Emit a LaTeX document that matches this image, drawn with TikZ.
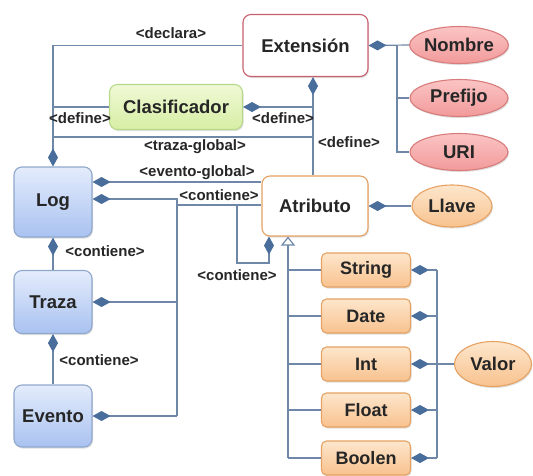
\documentclass[tikz,border=0pt]{standalone}
\usepackage{fontspec}
\setmainfont{Liberation Sans}
\usetikzlibrary{arrows.meta,shapes.geometric,shadows}
\definecolor{lnk}{HTML}{7088A8}
\definecolor{dia}{HTML}{4A6E9C}
\definecolor{blueB}{HTML}{8FA8CC}
\definecolor{blueT}{HTML}{E4ECFC}
\definecolor{blueD}{HTML}{A9C2F0}
\definecolor{redB}{HTML}{C8606E}
\definecolor{greenB}{HTML}{B8D88C}
\definecolor{greenT}{HTML}{F0F9D6}
\definecolor{greenD}{HTML}{D6EEA4}
\definecolor{oraB}{HTML}{E6A262}
\definecolor{oraT}{HTML}{FDE6CC}
\definecolor{oraD}{HTML}{F8C28E}
\definecolor{pinkB}{HTML}{D87C7C}
\definecolor{pinkT}{HTML}{FBC4C4}
\definecolor{pinkD}{HTML}{F29A9A}
\tikzset{
  every node/.style={font=\bfseries},
  box/.style={rounded corners=8pt, line width=1.1pt, align=center, inner sep=0pt,
    font=\fontsize{18.5}{21}\selectfont\bfseries, text=black!85,
    drop shadow={shadow xshift=1pt, shadow yshift=-1.5pt, opacity=0.25}},
  bluebox/.style={box, draw=blueB, top color=blueT, bottom color=blueD,
    minimum width=78pt, minimum height=68pt},
  subbox/.style={box, rounded corners=5pt, draw=oraB, top color=oraT, bottom color=oraD,
    minimum width=89pt, minimum height=34pt, font=\fontsize{18}{20}\selectfont\bfseries},
  oval/.style={ellipse, line width=1.1pt, inner sep=0pt,
    font=\fontsize{18.5}{21}\selectfont\bfseries, text=black!85,
    drop shadow={shadow xshift=1pt, shadow yshift=-1.5pt, opacity=0.25}},
  pinkoval/.style={oval, draw=pinkB, top color=pinkT, bottom color=pinkD,
    minimum width=98pt, minimum height=37pt},
  oraoval/.style={oval, draw=oraB, top color=oraT, bottom color=oraD},
  lbl/.style={font=\fontsize{15}{17}\selectfont\bfseries, text=black!85, inner sep=0pt},
  link/.style={draw=lnk, line width=1.2pt},
  own/.style={link, {Diamond[length=18pt, width=10pt, fill=dia, color=dia]}-},
  isa/.style={link, {Triangle[open, length=9pt, width=14pt, fill=white, color=lnk]}-},
}
\begin{document}
\begin{tikzpicture}[x=1pt, y=-1pt]
  \useasboundingbox (0,0) rectangle (533,475);
  \fill[white] (0,0) rectangle (533,475);

  % classes
  \node[box, draw=redB, fill=white, minimum width=125pt, minimum height=62pt] (ext) at (305.5,45.5) {Extensión};
  \node[box, draw=greenB, top color=greenT, bottom color=greenD, minimum width=133pt, minimum height=45pt] (cla) at (176,107) {Clasificador};
  \node[bluebox, minimum height=70pt] (log) at (53,202) {Log};
  \node[bluebox, minimum height=63pt] (tra) at (53,302) {Traza};
  \node[bluebox, minimum height=62pt] (eve) at (53,416) {Evento};
  \node[box, draw=oraB, fill=white, minimum width=106pt, minimum height=60pt] (atr) at (315,206) {Atributo};

  % attribute types
  \node[subbox] (str) at (366,270) {String};
  \node[subbox] (dat) at (366,316) {Date};
  \node[subbox] (int) at (366,364) {Int};
  \node[subbox] (flo) at (366,410) {Float};
  \node[subbox] (boo) at (366,458) {Boolen};

  % properties
  \node[pinkoval] (nom) at (459,45) {Nombre};
  \node[pinkoval] (pre) at (459,98) {Prefijo};
  \node[pinkoval] (uri) at (459,152) {URI};
  \node[oraoval, minimum width=80pt, minimum height=42pt] (lla) at (452,206) {Llave};
  \node[oraoval, minimum width=77pt, minimum height=45pt] (val) at (493,364) {Valor};

  % routing points
  \coordinate (vx) at (313,0);
  \coordinate (bus) at (177,0);
  \coordinate (tree) at (288,0);
  \coordinate (rbus) at (437,0);
  \coordinate (pbus) at (397,0);

  % Log: declara / define / traza-global
  \draw[own] (log.north) -- (log.north |- ext.west) -- (ext.west);
  \draw[link] (log.north |- cla.west) -- (cla.west);
  \draw[link] (log.north |- 0,137) -- (vx |- 0,137);
  % Extension owns its properties
  \draw[own] (ext.east) -- (nom.west);
  \draw[link] (pbus |- nom.west) -- (pbus |- uri.west) -- (uri.west);
  \draw[link] (pbus |- pre.west) -- (pre.west);
  % Extension define
  \draw[own] (ext.south -| vx) -- (atr.north -| vx);
  \draw[own] (cla.east) -- (cla.east -| vx);

  % Log / Traza / Evento
  \draw[own] (log.south) -- (tra.north);
  \draw[own] (tra.south) -- (eve.north);
  \draw[own] (log.east |- 0,182) -- (atr.west |- 0,182);
  \draw[own] (log.east |- 0,199) -- (bus |- 0,199) -- (bus |- eve.east) coordinate (busend);
  \draw[own] (tra.east) -- (bus |- tra.east);
  \draw[own] (eve.east) -- (busend);
  \draw[link] (bus |- 0,205) -- (atr.west |- 0,205);
  % Atributo contiene Atributo
  \draw[own] (atr.south -| 269,0) -- (269,263) -- (237,263) -- (237,205);
  % Atributo owns Llave
  \draw[own] (atr.east) -- (lla.west);

  % specialisations
  \draw[isa] (atr.south -| tree) -- (tree |- boo.west);
  \foreach \n in {str,dat,int,flo,boo}
    \draw[link] (tree |- \n.west) -- (\n.west);
  \foreach \n in {str,dat,flo,boo}
    \draw[own] (\n.east) -- (rbus |- \n.east);
  \draw[link] (rbus |- str.east) -- (rbus |- boo.east);
  \draw[own] (int.east) -- (val.west);

  % association labels
  \node[lbl] (l1) at (171,33) {<declara>};
  \node[lbl] (l2) at (80,118) {<define>};
  \node[lbl] (l3) at (283,118) {<define>};
  \node[lbl] (l4) at (195,147) {<traza-global>};
  \node[lbl] (l5) at (349,142) {<define>};
  \node[lbl] (l6) at (197,173) {<evento-global>};
  \node[lbl] (l7) at (219,195) {<contiene>};
  \node[lbl] (l8) at (105,251) {<contiene>};
  \node[lbl] (l9) at (237,275) {<contiene>};
  \node[lbl] (l10) at (99,360) {<contiene>};
\end{tikzpicture}
\end{document}
